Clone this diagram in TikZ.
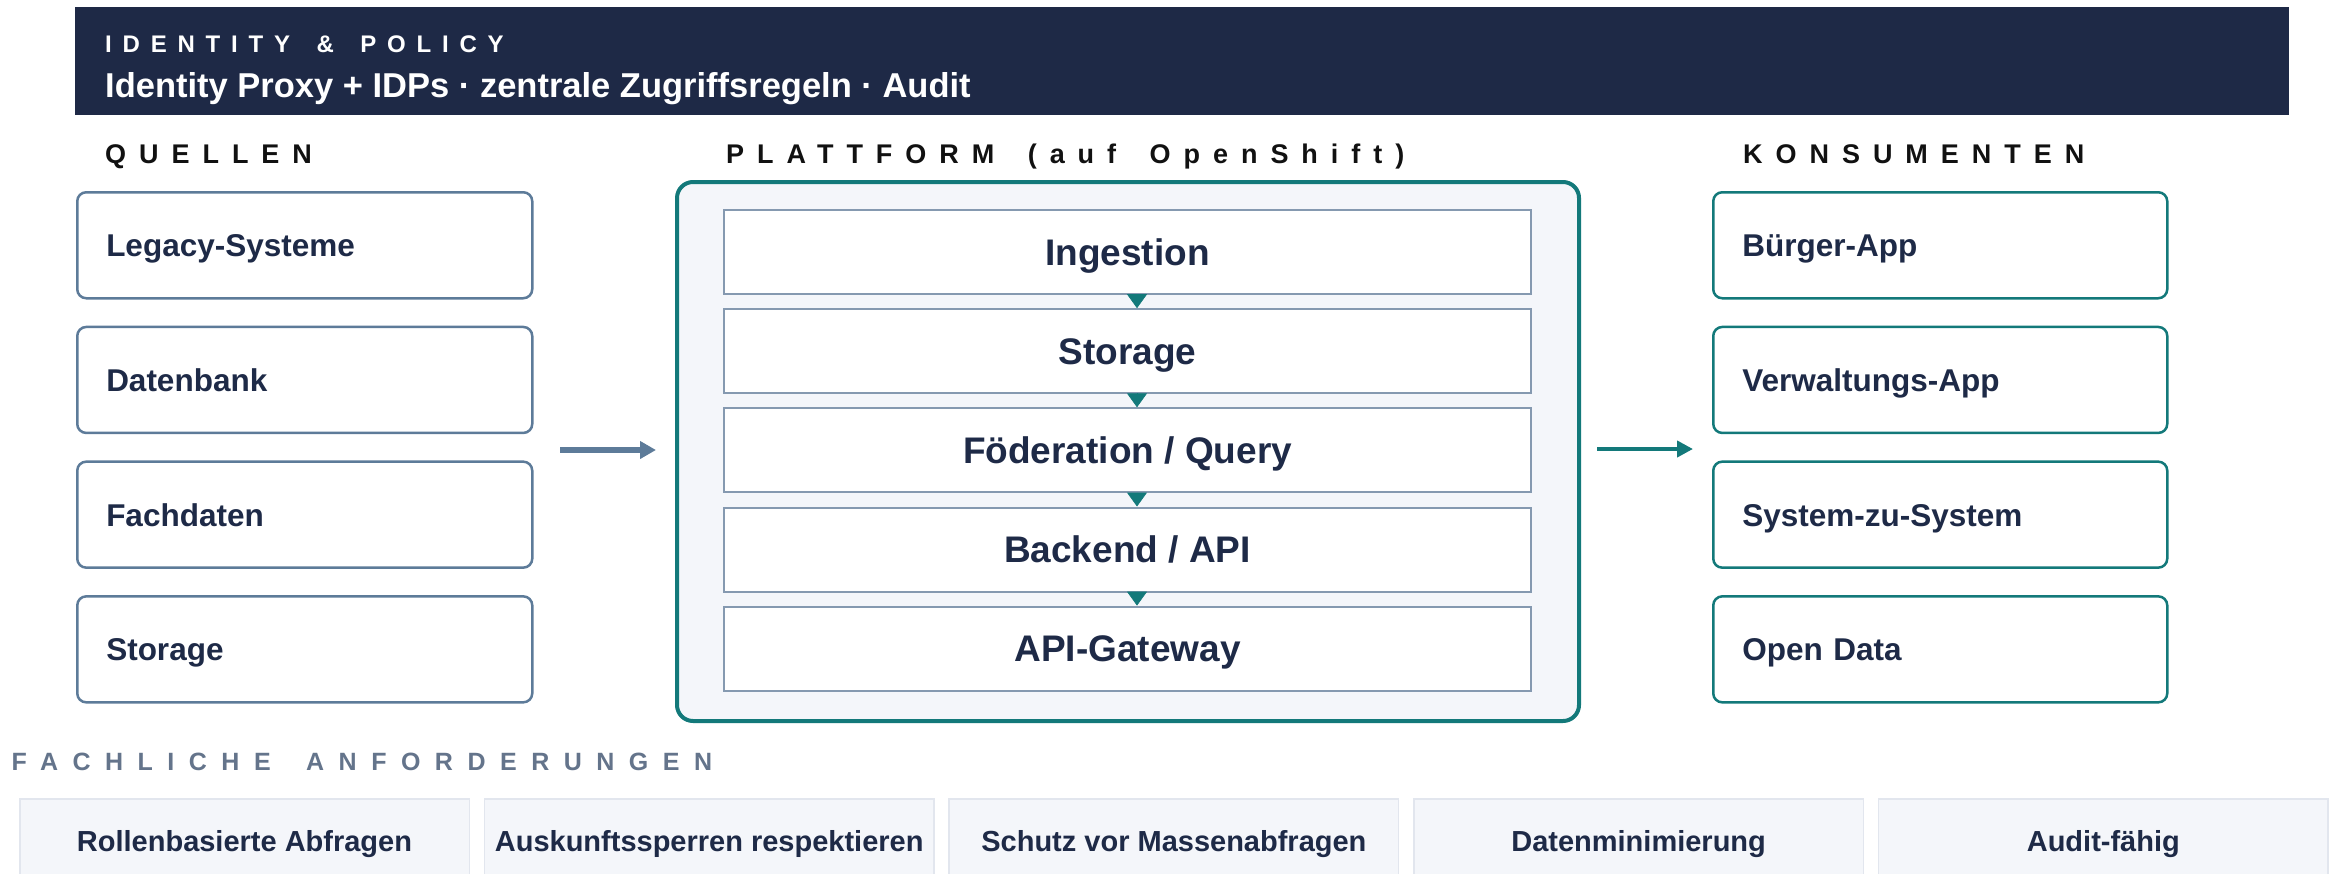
\documentclass[tikz,border=0pt]{standalone}
\usepackage{fontspec}
\setmainfont{Liberation Sans}
\usetikzlibrary{arrows.meta}
\definecolor{navy}{HTML}{1E2946}
\definecolor{inktext}{HTML}{1E2A47}
\definecolor{tealc}{HTML}{13797A}
\definecolor{slatec}{HTML}{5D7B99}
\definecolor{layerline}{HTML}{8599B0}
\definecolor{panelfill}{HTML}{F4F6FA}
\definecolor{reqline}{HTML}{E2E6EE}
\definecolor{reqlabel}{HTML}{64748B}
\definecolor{seclabel}{HTML}{111111}
\newcommand\wsp[1]{\hspace*{#1}\ }
\begin{document}
\begin{tikzpicture}[x=1pt,y=-1pt,
  hdrbox/.style={fill=navy, draw=none, minimum width=2214, minimum height=108, inner sep=0, anchor=north west},
  hdrtag/.style={anchor=base west, inner sep=0, text=white, font=\fontsize{24}{28}\selectfont\bfseries\addfontfeature{LetterSpace=45}},
  hdrtitle/.style={anchor=base west, inner sep=0, text=white, font=\fontsize{34.5}{40}\selectfont\bfseries},
  seclbl/.style={anchor=base west, inner sep=0, text=seclabel, font=\fontsize{27}{32}\selectfont\bfseries\addfontfeature{LetterSpace=48}},
  reqsec/.style={anchor=base west, inner sep=0, text=reqlabel, font=\fontsize{25}{30}\selectfont\bfseries\addfontfeature{LetterSpace=58}},
  srcbox/.style={draw=slatec, line width=2.5, rounded corners=9, fill=white, anchor=north west,
    minimum width=455, minimum height=106, text width=397, inner xsep=29, inner ysep=0,
    text height=23, text depth=0, align=left, text=inktext, font=\fontsize{31.5}{36}\selectfont\bfseries},
  conbox/.style={srcbox, draw=tealc, minimum width=454, text width=396},
  platbox/.style={draw=tealc, line width=4, rounded corners=16, fill=panelfill, anchor=north west,
    minimum width=902, minimum height=539, inner sep=0},
  layerbox/.style={draw=layerline, line width=2, fill=white, anchor=north west, minimum width=807,
    minimum height=84, inner sep=0, text height=26, text depth=0, text=inktext,
    font=\fontsize{37}{42}\selectfont\bfseries},
  reqbox/.style={draw=reqline, line width=1.5, fill=panelfill, anchor=north west, minimum width=449.5,
    minimum height=84, inner sep=0, text height=21, text depth=0, text=inktext,
    font=\fontsize{29}{34}\selectfont\bfseries},
  flowtip/.style={draw=tealc, fill=tealc, line width=0.6, -{Triangle[width=20pt,length=14pt]}},
  inarrow/.style={draw=slatec, line width=6, -{Triangle[width=17pt,length=16pt]}},
  outarrow/.style={draw=tealc, line width=4.5, -{Triangle[width=16pt,length=16pt]}}
]
\useasboundingbox (0,0) rectangle (2337,873);
\clip (0,0) rectangle (2337,873);

% header
\node[hdrbox] (hdr) at (75,7) {};
\node[hdrtag] (hdrtag) at (105,52) {IDENTITY\wsp{9pt}\&\wsp{9pt}POLICY};
\node[hdrtitle] (hdrtitle) at (105,97) {Identity Proxy + IDPs · zentrale Zugriffsregeln · Audit};

% section labels
\node[seclbl] (lblsrc) at (105,163) {QUELLEN};
\node[seclbl] (lblplat) at (726,163) {PLATTFORM\wsp{13pt}(auf\wsp{13pt}OpenShift)};
\node[seclbl] (lblcon) at (1743,163) {KONSUMENTEN};

% sources
\node[srcbox] (s1) at (76,191) {Legacy-Systeme};
\node[srcbox] (s2) at (76,325.7) {Datenbank};
\node[srcbox] (s3) at (76,460.4) {Fachdaten};
\node[srcbox] (s4) at (76,595.1) {Storage};

% platform
\node[platbox] (plat) at (675,180) {};
\node[layerbox] (L1) at (723,209) {Ingestion};
\node[layerbox] (L2) at (723,308.2) {Storage};
\node[layerbox] (L3) at (723,407.3) {Föderation / Query};
\node[layerbox] (L4) at (723,506.5) {Backend / API};
\node[layerbox] (L5) at (723,605.6) {API-Gateway};
\coordinate (ax) at (1137,0);
\draw[flowtip] (L1.south -| ax) -- (L2.north -| ax);
\draw[flowtip] (L2.south -| ax) -- (L3.north -| ax);
\draw[flowtip] (L3.south -| ax) -- (L4.north -| ax);
\draw[flowtip] (L4.south -| ax) -- (L5.north -| ax);

% consumers
\node[conbox] (c1) at (1712,191) {Bürger-App};
\node[conbox] (c2) at (1712,325.7) {Verwaltungs-App};
\node[conbox] (c3) at (1712,460.4) {System-zu-System};
\node[conbox] (c4) at (1712,595.1) {Open Data};

% flow arrows
\coordinate (inA) at (560,450);
\coordinate (inB) at (656,450);
\draw[inarrow] (inA) -- (inB);
\coordinate (outA) at (1597,449);
\coordinate (outB) at (1693,449);
\draw[outarrow] (outA) -- (outB);

% requirements
\node[reqsec] (lblreq) at (11.5,770) {FACHLICHE\wsp{14pt}ANFORDERUNGEN};
\node[reqbox] (r1) at (19,798) {Rollenbasierte Abfragen};
\node[reqbox] (r2) at (483.7,798) {Auskunftssperren respektieren};
\node[reqbox] (r3) at (948.4,798) {Schutz vor Massenabfragen};
\node[reqbox] (r4) at (1413.1,798) {Datenminimierung};
\node[reqbox] (r5) at (1877.8,798) {Audit-fähig};
\end{tikzpicture}
\end{document}
